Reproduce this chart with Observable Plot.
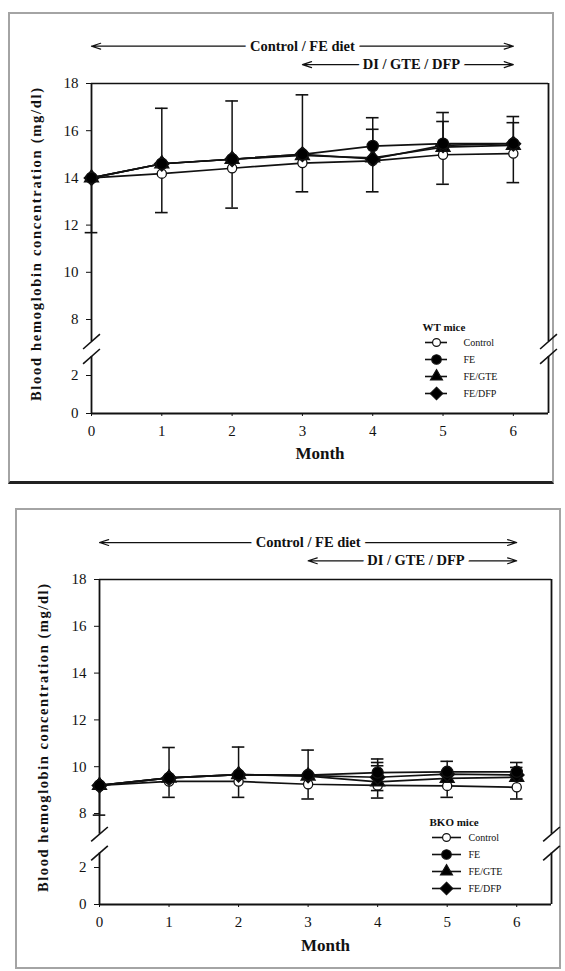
<!DOCTYPE html>
<html>
<head>
<meta charset="utf-8">
<script src="https://cdn.jsdelivr.net/npm/d3@7"></script>
<script src="https://cdn.jsdelivr.net/npm/@observablehq/plot@0.6"></script>
<style>
  body { margin: 0; background: #fff; }
  #page { position: relative; width: 565px; height: 971px; overflow: hidden; background: #fff; font-family: "Liberation Serif", serif; }
  .panel { position: absolute; left: 0; width: 565px; }
  .frame { position: absolute; box-sizing: border-box; border: 2px solid #a4a4a4; }
  .legend { position: absolute; }
</style>
</head>
<body>
<div id="page"></div>
<script>
// ---------- data ----------
const months = [0, 1, 2, 3, 4, 5, 6];
const seriesNames = ["Control", "FE", "FE/GTE", "FE/DFP"];
const yTicks = [0, 2, 8, 10, 12, 14, 16, 18];
const yLabel = "Blood hemoglobin concentration (mg/dl)";
const xLabel = "Month";

const periodLabels = ["Control / FE diet", "DI / GTE / DFP"];
const periodStart = [0, 3];
const periodEnd = [6, 6];
const periodLabelAt = [3.0, 4.55];
const periodLevel = [19.58, 18.8];

// WT mice
const wtControl = [14.0, 14.18, 14.41, 14.63, 14.72, 14.98, 15.03];
const wtFE      = [14.0, 14.6, 14.79, 15.0, 15.35, 15.45, 15.45];
const wtFEGTE   = [14.0, 14.6, 14.79, 14.95, 14.85, 15.3, 15.38];
const wtFEDFP   = [14.0, 14.6, 14.79, 15.0, 14.8, 15.38, 15.45];
const wtControlLower = [null, 12.53, 12.72, 13.41, 13.41, 13.73, 13.8];
const wtFEUpper      = [null, 16.95, 17.26, 17.52, 16.55, 16.77, 16.6];
const wtFELower      = [11.68, null, null, null, null, null, null];
const wtFEDFPUpper   = [null, null, null, null, 16.06, 16.39, 16.34];

// BKO mice
const bkoControl = [9.2, 9.37, 9.37, 9.25, 9.2, 9.18, 9.12];
const bkoFE      = [9.2, 9.52, 9.66, 9.64, 9.75, 9.78, 9.78];
const bkoFEGTE   = [9.2, 9.52, 9.66, 9.6, 9.35, 9.5, 9.55];
const bkoFEDFP   = [9.2, 9.52, 9.66, 9.62, 9.55, 9.68, 9.65];
const bkoControlLower = [null, 8.69, 8.69, 8.62, 8.66, 8.69, 8.62];
const bkoFEUpper      = [null, 10.82, 10.84, 10.71, 10.33, 10.23, 10.18];
const bkoFELower      = [7.82, null, null, null, null, null, null];
const bkoFEDFPUpper   = [null, null, null, null, 10.18, null, 9.97];
const bkoFEGTEUpper   = [null, null, null, null, 10.04, null, null];
const bkoFEGTELower   = [null, null, null, null, 8.98, null, null];

// marker styles per series
const markerSymbol = ["circle", "circle", "triangle", "diamond2"];
const markerFill = ["white", "black", "black", "black"];
const markerR = [4.6, 5.6, 5.2, 6.6];
const drawOrder = [0, 2, 3, 1];

const FONT = "Liberation Serif";
const page = document.getElementById("page");

function buildPanel(cfg) {
  const {values, errors, top, height, xRange, yPixels, breaks, ylabelLen, ylabelDx, monthDy} = cfg;
  // broken axis: piecewise mapping of values [0,2,8,18] onto a linear virtual coordinate
  const pieces = [0, 2, 8, 18];
  const brk = d3.scaleLinear().domain(pieces).range(yPixels.map(p => yPixels[0] - p));
  const uMax = yPixels[0] - yPixels[3];

  const rows = [];
  seriesNames.forEach((s, k) => values[k].forEach((v, i) => rows.push({series: s, k, month: months[i], value: v})));
  const errRows = [];
  errors.forEach(([k, ends]) => ends.forEach((e, i) => {
    if (e != null) errRows.push({month: months[i], value: values[k][i], end: e});
  }));
  const periods = periodLabels.map((label, i) => ({label, start: periodStart[i], end: periodEnd[i], at: periodLabelAt[i], level: periodLevel[i]}));
  const sides = [0, 6.5];
  const segs = [[0, breaks[0]], [breaks[1], 18]];
  const sideSegs = sides.flatMap(x => segs.map(([a, b]) => ({x, a, b})));
  const slashes = sides.flatMap(x => breaks.map(b => ({x, b})));

  const marks = [
    Plot.ruleY([18], {y: brk, stroke: "#111", strokeWidth: 1.6}),
    Plot.ruleY([0], {y: brk, stroke: "#111", strokeWidth: 1.8}),
    Plot.ruleX(sideSegs, {x: "x", y1: d => brk(d.a), y2: d => brk(d.b), stroke: "#111", strokeWidth: 1.8}),
    Plot.link(slashes, {x1: d => d.x - 0.12, x2: d => d.x + 0.12, y1: d => brk(d.b - 0.8), y2: d => brk(d.b + 0.8), stroke: "#111", strokeWidth: 1.6}),
    // period annotations
    Plot.arrow(periods, {x1: "at", x2: "start", y1: d => brk(d.level), y2: d => brk(d.level), stroke: "#111", strokeWidth: 1.2, headLength: 12, headAngle: 36}),
    Plot.arrow(periods, {x1: "at", x2: "end", y1: d => brk(d.level), y2: d => brk(d.level), stroke: "#111", strokeWidth: 1.2, headLength: 12, headAngle: 36}),
    Plot.text(periods, {x: "at", y: d => brk(d.level), text: "label", fill: "#111", stroke: "white", strokeWidth: 10, fontWeight: "bold", fontSize: 14.5, fontFamily: FONT}),
    // lines
    Plot.line(rows, {x: "month", y: d => brk(d.value), z: "series", stroke: "#111", strokeWidth: 1.7}),
    // error bars
    Plot.ruleX(errRows, {x: "month", y1: d => brk(d.value), y2: d => brk(d.end), stroke: "#111", strokeWidth: 1.5}),
    Plot.ruleY(errRows, {y: d => brk(d.end), x1: d => d.month - 0.09, x2: d => d.month + 0.09, stroke: "#111", strokeWidth: 1.6}),
  ];
  drawOrder.forEach(k => {
    marks.push(Plot.dot(rows.filter(d => d.k === k), {x: "month", y: d => brk(d.value), symbol: markerSymbol[k], fill: markerFill[k], stroke: "#111", strokeWidth: 1.3, r: markerR[k]}));
  });
  marks.push(
    Plot.text([yLabel], {frameAnchor: "left", textAnchor: "middle", dx: ylabelDx, dy: -4, rotate: -90, fontWeight: "bold", fontSize: 14.5, fontFamily: FONT, fill: "#111"}),
    Plot.text([xLabel], {frameAnchor: "bottom", dy: monthDy, fontWeight: "bold", fontSize: 17, fontFamily: FONT, fill: "#111"})
  );

  const svg = Plot.plot({
    width: 565,
    height,
    marginLeft: xRange[0],
    marginRight: 565 - xRange[1],
    marginTop: yPixels[3],
    marginBottom: height - yPixels[0],
    x: {domain: [0, 6.5], range: xRange, ticks: months, tickSize: 3, tickPadding: 9, tickFormat: d => String(d), label: null},
    y: {domain: [0, uMax], range: [yPixels[0], yPixels[3]], ticks: yTicks.map(t => brk(t)), tickSize: 5, tickPadding: 8,
        tickFormat: u => String(Math.round(brk.invert(u))), label: null},
    style: {fontFamily: FONT, fontSize: "15px", color: "#111", background: "transparent", overflow: "visible"},
    marks
  });
  d3.select(svg).selectAll("text").each(function () {
    if (this.textContent === yLabel) {
      this.setAttribute("textLength", ylabelLen);
      this.setAttribute("lengthAdjust", "spacing");
    }
  });
  const div = document.createElement("div");
  div.className = "panel";
  div.style.top = top + "px";
  div.appendChild(svg);
  page.appendChild(div);
}

function buildLegend(cfg) {
  const {title, left, top, lineX, dotX, textX} = cfg;
  const svg = Plot.plot({
    width: 120, height: 92, margin: 0,
    x: {domain: [0, 120], range: [0, 120], axis: null},
    y: {type: "point", domain: seriesNames, range: [30, 81], padding: 0, axis: null},
    style: {fontFamily: FONT, background: "transparent", overflow: "visible"},
    marks: [
      Plot.text([title], {frameAnchor: "top-left", dx: 12, dy: 11, textAnchor: "start", fontWeight: "bold", fontSize: 11, fontFamily: FONT, fill: "#111"}),
      Plot.ruleY(seriesNames, {y: d => d, x1: () => lineX[0], x2: () => lineX[1], stroke: "#111", strokeWidth: 1.6}),
      ...drawOrder.map(k => Plot.dot([seriesNames[k]], {x: () => dotX, y: d => d, symbol: markerSymbol[k], fill: markerFill[k], stroke: "#111", strokeWidth: 1.2, r: markerR[k] * 0.85})),
      Plot.text(seriesNames, {x: () => textX, y: d => d, text: d => d, textAnchor: "start", fontSize: 10, fontFamily: FONT, fill: "#111"})
    ]
  });
  const div = document.createElement("div");
  div.className = "legend";
  div.style.left = left + "px";
  div.style.top = top + "px";
  div.appendChild(svg);
  page.appendChild(div);
}

function addFrame(left, top, width, height, extra) {
  const f = document.createElement("div");
  f.className = "frame";
  Object.assign(f.style, {left: left + "px", top: top + "px", width: width + "px", height: height + "px"}, extra || {});
  page.appendChild(f);
}

addFrame(8, 12, 546, 472, {borderBottom: "3px solid #222"});
addFrame(15, 508, 546, 461, {});

buildPanel({
  values: [wtControl, wtFE, wtFEGTE, wtFEDFP],
  errors: [[0, wtControlLower], [1, wtFEUpper], [1, wtFELower], [3, wtFEDFPUpper]],
  top: 0, height: 485,
  xRange: [91, 548],
  yPixels: [413, 375, 319, 83],
  breaks: [4.04, 5.64],
  ylabelLen: 313, ylabelDx: -55, monthDy: 45
});

buildPanel({
  values: [bkoControl, bkoFE, bkoFEGTE, bkoFEDFP],
  errors: [[0, bkoControlLower], [1, bkoFEUpper], [1, bkoFELower], [3, bkoFEDFPUpper], [2, bkoFEGTEUpper], [2, bkoFEGTELower]],
  top: 485, height: 486,
  xRange: [99, 551],
  yPixels: [419, 382, 328, 94],
  breaks: [3.6, 5.7],
  ylabelLen: 308, ylabelDx: -56, monthDy: 46
});

buildLegend({title: "WT mice", left: 410, top: 312, lineX: [15, 37], dotX: 26, textX: 53});
buildLegend({title: "BKO mice", left: 417, top: 807, lineX: [15, 44], dotX: 29, textX: 51});
</script>
</body>
</html>
